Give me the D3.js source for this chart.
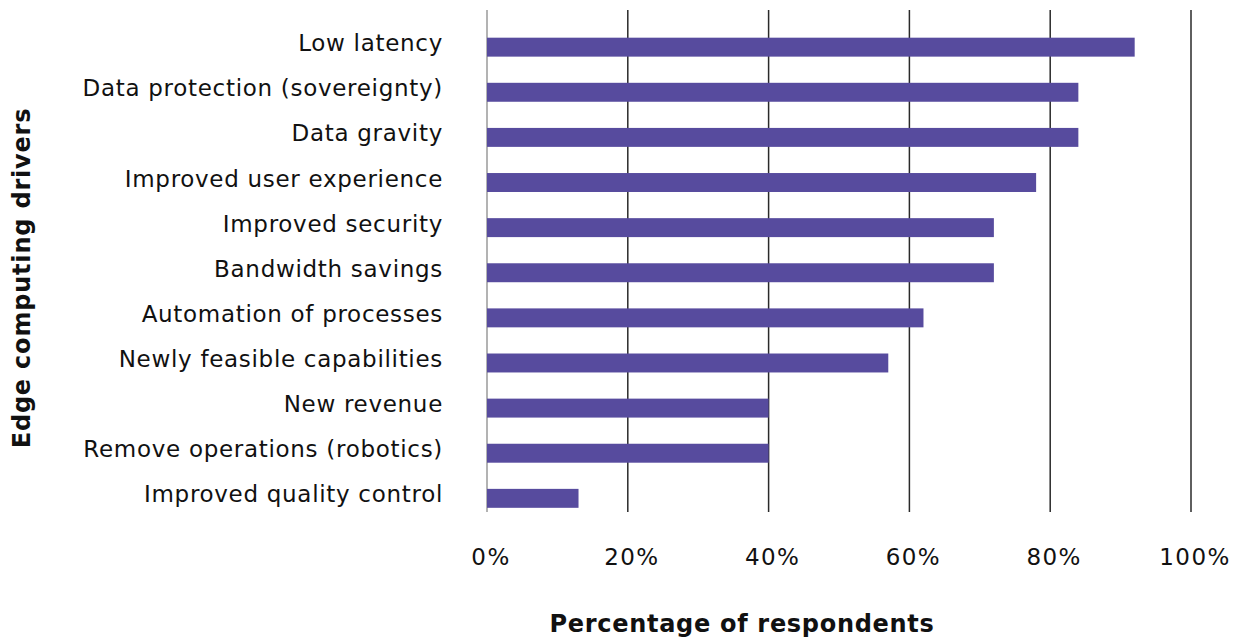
<!DOCTYPE html>
<html>
<head>
<meta charset="utf-8">
<script src="https://cdn.jsdelivr.net/npm/d3@7"></script>
<style>
  html, body { margin: 0; padding: 0; background: #ffffff; }
  svg { display: block; }
  text { font-family: "DejaVu Sans", "Open Sans", sans-serif; fill: #111111; }
</style>
</head>
<body>
<svg id="chart" width="1248" height="639"></svg>
<script>
// Edge computing drivers, share of respondents (%)
const drivers = [
  "Low latency",
  "Data protection (sovereignty)",
  "Data gravity",
  "Improved user experience",
  "Improved security",
  "Bandwidth savings",
  "Automation of processes",
  "Newly feasible capabilities",
  "New revenue",
  "Remove operations (robotics)",
  "Improved quality control"
];
const shares = [92, 84, 84, 78, 72, 72, 62, 57, 40, 40, 13];
const xTicks = [0, 20, 40, 60, 80, 100];

const svg = d3.select("#chart");
const left = 487, right = 1191;
const gridTop = 10, gridBottom = 512;

const x = d3.scaleLinear().domain([0, 100]).range([left, right]);
const y = d3.scaleBand().domain(drivers).range([24.6, 520.9]).paddingInner(0.58).paddingOuter(0.29);

// vertical gridlines
svg.append("g").selectAll("line").data(xTicks).join("line")
  .attr("x1", d => x(d)).attr("x2", d => x(d))
  .attr("y1", gridTop).attr("y2", gridBottom)
  .attr("stroke", d => d === 0 ? "#9a9a9a" : "#2a2a2a")
  .attr("stroke-width", 1.5);

// bars
svg.append("g").selectAll("rect").data(drivers).join("rect")
  .attr("x", x(0))
  .attr("y", d => y(d))
  .attr("width", (d, i) => x(shares[i]) - x(0))
  .attr("height", y.bandwidth())
  .attr("fill", "#574b9e");

// category labels
svg.append("g").selectAll("text").data(drivers).join("text")
  .attr("x", 443)
  .attr("y", d => y(d) + y.bandwidth() / 2 - 4)
  .attr("text-anchor", "end")
  .attr("dominant-baseline", "central")
  .attr("font-size", 23)
  .attr("letter-spacing", 0.7)
  .text(d => d);

// x tick labels
svg.append("g").selectAll("text").data(xTicks).join("text")
  .attr("x", d => x(d) + 4)
  .attr("y", 565)
  .attr("text-anchor", "middle")
  .attr("font-size", 23)
  .attr("letter-spacing", 1.4)
  .text(d => d + "%");

// axis titles
svg.append("text")
  .attr("x", 742).attr("y", 632)
  .attr("text-anchor", "middle")
  .attr("font-size", 24).attr("font-weight", 700)
  .attr("letter-spacing", 0.7)
  .text("Percentage of respondents");

svg.append("text")
  .attr("transform", "translate(30,278) rotate(-90)")
  .attr("text-anchor", "middle")
  .attr("font-size", 24).attr("font-weight", 700)
  .attr("letter-spacing", 0.8)
  .text("Edge computing drivers");
</script>
</body>
</html>
